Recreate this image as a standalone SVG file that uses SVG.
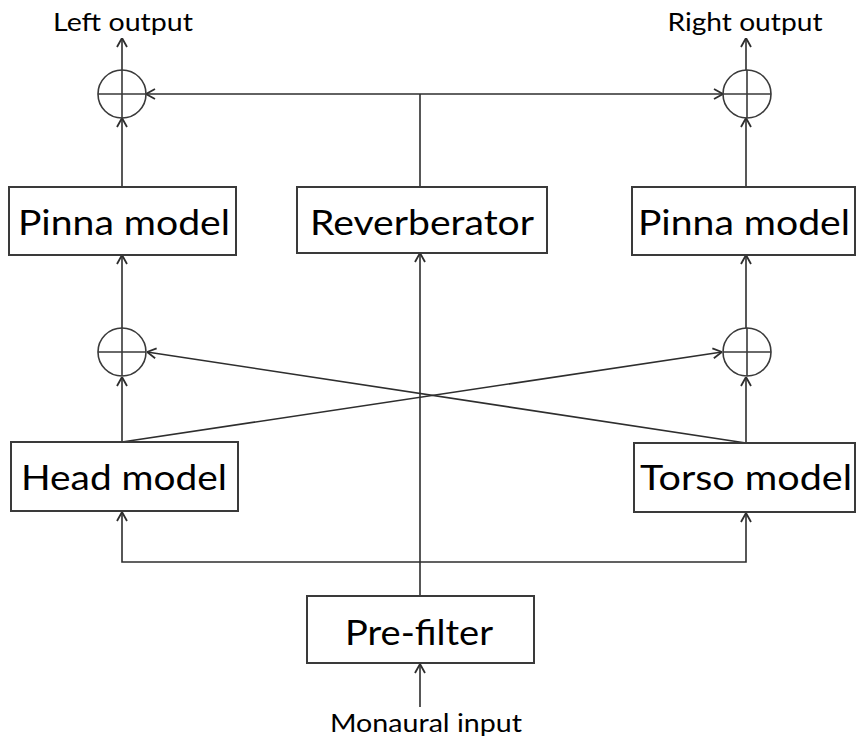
<svg xmlns="http://www.w3.org/2000/svg" width="857" height="742" viewBox="0 0 857 742">
  <style>
    .box { fill: #ffffff; stroke: #3a3a3a; stroke-width: 2; }
    .sum { fill: none; stroke: #3a3a3a; stroke-width: 1.6; }
    .wire { fill: none; stroke: #2e2e2e; stroke-width: 1.6; }
    .label { font-family: Lato, "Liberation Sans", sans-serif; font-size: 34px; fill: #000; text-anchor: middle; }
    .io { font-family: Lato, "Liberation Sans", sans-serif; font-size: 25px; fill: #000; text-anchor: middle; }
  </style>
  <defs>
    <marker id="arr" viewBox="0 0 10 12" refX="10" refY="6" markerWidth="10" markerHeight="12" markerUnits="userSpaceOnUse" orient="auto-start-reverse">
      <path d="M1,1 L10,6 L1,11" fill="none" stroke="#2e2e2e" stroke-width="1.8"/>
    </marker>
  </defs>

  <rect width="857" height="742" fill="#ffffff"/>

  <!-- signal paths -->
  <g id="connectors">
    <path class="wire" d="M122,70 V38" marker-end="url(#arr)"/>
    <path class="wire" d="M746,70 V38" marker-end="url(#arr)"/>
    <path class="wire" d="M122,187 V118" marker-end="url(#arr)"/>
    <path class="wire" d="M746,187 V118" marker-end="url(#arr)"/>
    <path class="wire" d="M420,187 V94"/>
    <path class="wire" d="M146,94 H723" marker-start="url(#arr)" marker-end="url(#arr)"/>
    <path class="wire" d="M122,328 V255" marker-end="url(#arr)"/>
    <path class="wire" d="M746,328 V255" marker-end="url(#arr)"/>
    <path class="wire" d="M122,442 V377" marker-end="url(#arr)"/>
    <path class="wire" d="M746,443 V377" marker-end="url(#arr)"/>
    <path class="wire" d="M122,442 L722,352" marker-end="url(#arr)"/>
    <path class="wire" d="M746,443 L147,352" marker-end="url(#arr)"/>
    <path class="wire" d="M420,596 V253" marker-end="url(#arr)"/>
    <path class="wire" d="M420,562 H122 V512" marker-end="url(#arr)"/>
    <path class="wire" d="M420,562 H746 V513" marker-end="url(#arr)"/>
    <path class="wire" d="M420,707 V664" marker-end="url(#arr)"/>
  </g>

  <!-- summing junctions -->
  <g id="sum-left-out">
    <circle class="sum" cx="122" cy="94" r="24"/>
    <path class="sum" d="M98,94 H146 M122,70 V118"/>
  </g>
  <g id="sum-right-out">
    <circle class="sum" cx="747" cy="94" r="24"/>
    <path class="sum" d="M723,94 H771 M747,70 V118"/>
  </g>
  <g id="sum-left-mid">
    <circle class="sum" cx="122" cy="352" r="24"/>
    <path class="sum" d="M98,352 H146 M122,328 V376"/>
  </g>
  <g id="sum-right-mid">
    <circle class="sum" cx="747" cy="352" r="24"/>
    <path class="sum" d="M723,352 H771 M747,328 V376"/>
  </g>

  <!-- processing blocks -->
  <g id="pinna-left">
    <rect class="box" x="9" y="187" width="227" height="68"/>
    <text class="label" x="124" y="235" textLength="212" lengthAdjust="spacingAndGlyphs">Pinna model</text>
  </g>
  <g id="reverberator">
    <rect class="box" x="297" y="187" width="250" height="66"/>
    <text class="label" x="422" y="235" textLength="224" lengthAdjust="spacingAndGlyphs">Reverberator</text>
  </g>
  <g id="pinna-right">
    <rect class="box" x="632" y="187" width="223" height="68"/>
    <text class="label" x="744" y="235" textLength="212" lengthAdjust="spacingAndGlyphs">Pinna model</text>
  </g>
  <g id="head">
    <rect class="box" x="11" y="442" width="227" height="69"/>
    <text class="label" x="124" y="490" textLength="206" lengthAdjust="spacingAndGlyphs">Head model</text>
  </g>
  <g id="torso">
    <rect class="box" x="634" y="443" width="221" height="69"/>
    <text class="label" x="746" y="490" textLength="212" lengthAdjust="spacingAndGlyphs">Torso model</text>
  </g>
  <g id="prefilter">
    <rect class="box" x="307" y="596" width="227" height="67"/>
    <text class="label" x="419" y="645" textLength="148" lengthAdjust="spacingAndGlyphs">Pre-filter</text>
  </g>

  <!-- terminals -->
  <g id="left-output">
    <text class="io" x="123" y="31" textLength="140" lengthAdjust="spacingAndGlyphs">Left output</text>
  </g>
  <g id="right-output">
    <text class="io" x="745" y="31" textLength="155" lengthAdjust="spacingAndGlyphs">Right output</text>
  </g>
  <g id="monaural-input">
    <text class="io" x="426" y="732" textLength="192" lengthAdjust="spacingAndGlyphs">Monaural input</text>
  </g>
</svg>
